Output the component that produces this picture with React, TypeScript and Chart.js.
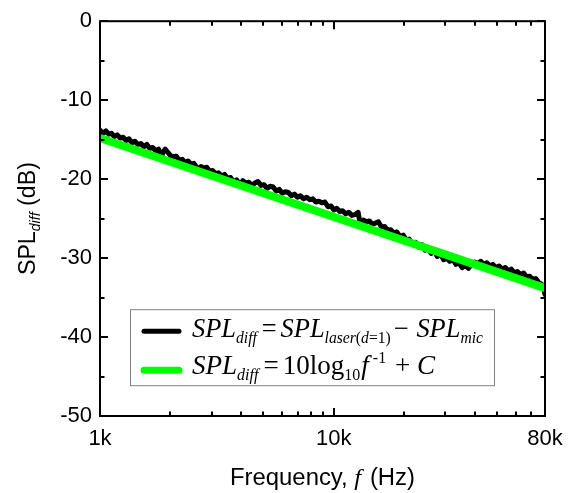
import React, { useEffect, useRef } from 'react';
import { Chart, registerables } from 'chart.js';

Chart.register(...registerables);

// Measured SPL difference (black trace)
const measuredFreqHz = [
  1000, 1030, 1060, 1090, 1120, 1150, 1185, 1220, 1255, 1290, 1330, 1370, 1410, 1450, 1495, 1540, 1585, 1630,
  1680, 1730, 1780, 1830, 1860, 1900, 1950, 2000, 2060, 2120, 2180, 2250, 2310, 2380, 2450, 2520, 2590, 2640,
  2700, 2780, 2860, 2940, 3030, 3120, 3210, 3310, 3410, 3510, 3620, 3730, 3840, 3960, 4080, 4200, 4330, 4460,
  4600, 4740, 4880, 5030, 5180, 5340, 5500, 5670, 5840, 6020, 6200, 6390, 6580, 6780, 6990, 7200, 7420, 7650,
  7880, 8120, 8370, 8630, 8890, 9160, 9440, 9730, 10000, 10300, 10600, 10900, 11250, 11600, 11950, 12300,
  12700, 12900, 13100, 13400, 13800, 14200, 14600, 15000, 15500, 16000, 16500, 17000, 17500, 18000, 18600,
  19200, 19800, 20400, 21000, 21700, 22400, 23100, 23800, 24500, 25300, 26100, 26900, 27700, 28600, 29500,
  30400, 31300, 32300, 33300, 34300, 35400, 36500, 37600, 38800, 40000, 41200, 42500, 43800, 45100, 46500,
  47900, 49400, 50900, 52500, 54100, 55700, 57400, 59200, 61000, 62900, 64800, 66800, 68800, 70900, 73000,
  75200, 77400, 79000, 80000,
];
const measuredSplDiff = [
  -13.8, -14.2, -13.9, -14.3, -14.2, -14.6, -14.4, -14.8, -14.7, -15.1, -14.9, -15.4, -15.2, -15.6, -15.5, -15.9, -15.6, -16.1,
  -16.0, -16.4, -16.2, -17.3, -16.6, -16.2, -16.6, -17.0, -17.2, -17.1, -17.6, -17.5, -17.9, -17.7, -18.1, -18.0, -18.5, -19.0,
  -18.4, -18.6, -18.5, -19.0, -18.9, -19.3, -19.2, -19.6, -19.4, -19.9, -19.8, -20.4, -20.1, -20.7, -20.2, -20.5, -20.4, -20.8,
  -20.5, -20.3, -20.8, -20.7, -21.2, -20.9, -21.0, -21.5, -21.3, -21.8, -21.6, -21.7, -22.1, -21.9, -22.3, -22.1, -22.5, -22.3,
  -22.6, -22.5, -22.9, -22.8, -23.0, -22.9, -23.5, -23.4, -23.9, -23.7, -24.1, -24.0, -24.4, -24.2, -24.6, -24.5,
  -24.2, -25.3, -25.7, -25.2, -25.4, -25.3, -25.7, -25.6, -25.4, -26.1, -26.0, -26.5, -26.4, -26.8, -26.7,
  -27.3, -27.1, -27.7, -27.6, -28.2, -28.0, -28.6, -28.3, -29.0, -28.8, -29.4, -29.1, -29.8, -29.5, -30.2,
  -30.0, -30.4, -30.2, -30.8, -30.6, -31.2, -30.9, -31.3, -30.8, -30.5, -30.7, -30.4, -30.8, -30.6, -31.0,
  -30.8, -31.2, -31.0, -31.4, -31.2, -31.6, -31.4, -31.9, -31.7, -32.1, -31.9, -32.4, -32.3, -32.7, -32.6,
  -33.1, -33.3, -33.9, -34.6,
];

// Fit line (green): SPL_diff = 10 log10 f^-1 + C
const fitFreqHz = [1000, 80000];
const fitSplDiff = [-14.8, -33.8];

// Axes
const xMin = 1000;
const xMax = 80000;
const yMin = -50;
const yMax = 0;
const xTickValues = [1000, 10000, 80000];
const xTickLabels = ['1k', '10k', '80k'];
const xMajorMarks = [1000, 10000];
const xMinorMarks = [2000, 3000, 4000, 5000, 6000, 7000, 8000, 9000, 20000, 30000, 40000, 50000, 60000, 70000];
const yMajorMarks = [0, -10, -20, -30, -40, -50];
const yMinorMarks = [-5, -15, -25, -35, -45];

const SANS = '"Liberation Sans", Arial, Helvetica, sans-serif';
const SERIF = '"Liberation Serif", "Times New Roman", Times, serif';

type Seg = { t: string; font: string; dy?: number; gapBefore?: number; gapAfter?: number };

function drawRich(ctx: CanvasRenderingContext2D, segs: Seg[], x: number, y: number, targetWidth: number, align: 'left' | 'center' = 'left') {
  ctx.save();
  ctx.textAlign = 'left';
  ctx.textBaseline = 'alphabetic';
  let total = 0;
  const widths: number[] = [];
  for (const s of segs) {
    ctx.font = s.font;
    const w = ctx.measureText(s.t).width;
    widths.push(w);
    total += (s.gapBefore || 0) + w + (s.gapAfter || 0);
  }
  const sx = targetWidth / total;
  ctx.translate(align === 'center' ? x - targetWidth / 2 : x, y);
  ctx.scale(sx, 1);
  let cx = 0;
  segs.forEach((s, i) => {
    ctx.font = s.font;
    cx += s.gapBefore || 0;
    ctx.fillText(s.t, cx, s.dy || 0);
    cx += widths[i] + (s.gapAfter || 0);
  });
  ctx.restore();
}

const framePlugin = {
  id: 'frameTicks',
  afterDatasetsDraw(chart: any) {
    const { ctx, chartArea } = chart;
    const { left, right, top, bottom } = chartArea;
    const xs = chart.scales.x;
    const ys = chart.scales.y;
    ctx.save();
    ctx.strokeStyle = '#000';
    ctx.lineWidth = 2;
    ctx.lineCap = 'butt';
    ctx.strokeRect(left, top, right - left, bottom - top);
    const majorLen = 8;
    const minorLen = 4.5;
    ctx.beginPath();
    const xMark = (v: number, len: number) => {
      const px = Math.round(xs.getPixelForValue(v));
      ctx.moveTo(px, bottom);
      ctx.lineTo(px, bottom - len);
      ctx.moveTo(px, top);
      ctx.lineTo(px, top + len);
    };
    const yMark = (v: number, len: number) => {
      const py = Math.round(ys.getPixelForValue(v));
      ctx.moveTo(left, py);
      ctx.lineTo(left + len, py);
      ctx.moveTo(right, py);
      ctx.lineTo(right - len, py);
    };
    xMajorMarks.forEach((v) => xMark(v, majorLen));
    xMinorMarks.forEach((v) => xMark(v, minorLen));
    yMajorMarks.forEach((v) => yMark(v, majorLen));
    yMinorMarks.forEach((v) => yMark(v, minorLen));
    ctx.stroke();
    ctx.restore();
  },
  afterDraw(chart: any) {
    const { ctx, chartArea } = chart;
    const { left, right, top, bottom } = chartArea;
    ctx.save();
    ctx.fillStyle = '#000';

    // Y axis title
    ctx.save();
    ctx.translate(35, (top + bottom) / 2);
    ctx.rotate(-Math.PI / 2);
    drawRich(ctx, [
      { t: 'SPL', font: `23px ${SANS}` },
      { t: 'diff', font: `italic 14px ${SANS}`, dy: 5 },
      { t: ' (dB)', font: `23px ${SANS}` },
    ], 0, 0, 113, 'center');
    ctx.restore();

    // X axis title
    drawRich(ctx, [
      { t: 'Frequency, ', font: `23px ${SANS}` },
      { t: 'f', font: `italic 24px ${SERIF}`, gapAfter: 2 },
      { t: ' (Hz)', font: `23px ${SANS}` },
    ], (left + right) / 2, 485, 185, 'center');

    // Legend box
    const bx = left + 30;
    const by = top + 288;
    const bw = 364;
    const bh = 76;
    ctx.fillStyle = '#fff';
    ctx.fillRect(bx, by, bw, bh);
    ctx.strokeStyle = '#808080';
    ctx.lineWidth = 1;
    ctx.strokeRect(bx + 0.5, by + 0.5, bw, bh);

    ctx.lineCap = 'round';
    ctx.lineWidth = 5;
    ctx.strokeStyle = '#000000';
    ctx.beginPath();
    ctx.moveTo(bx + 14, by + 22);
    ctx.lineTo(bx + 49, by + 22);
    ctx.stroke();
    ctx.strokeStyle = '#00ff00';
    ctx.lineWidth = 7;
    ctx.beginPath();
    ctx.moveTo(bx + 14, by + 61);
    ctx.lineTo(bx + 49, by + 61);
    ctx.stroke();

    ctx.fillStyle = '#000';
    const I = `italic 27px ${SERIF}`;
    const R = `27px ${SERIF}`;
    const IS = `italic 16px ${SERIF}`;
    const RS = `16px ${SERIF}`;
    drawRich(ctx, [
      { t: 'SPL', font: I },
      { t: 'diff', font: IS, dy: 6 },
      { t: '=', font: R, gapBefore: 5, gapAfter: 4 },
      { t: 'SPL', font: I },
      { t: 'laser', font: IS, dy: 6 },
      { t: '(', font: RS, dy: 6 },
      { t: 'd', font: IS, dy: 6 },
      { t: '=1)', font: RS, dy: 6 },
      { t: '\u2212', font: R, gapBefore: 3, gapAfter: 8 },
      { t: 'SPL', font: I },
      { t: 'mic', font: IS, dy: 6 },
    ], bx + 62, by + 28, 291);
    drawRich(ctx, [
      { t: 'SPL', font: I },
      { t: 'diff', font: IS, dy: 6 },
      { t: '=', font: R, gapBefore: 5, gapAfter: 4 },
      { t: '10log', font: R },
      { t: '10', font: RS, dy: 6 },
      { t: 'f', font: I, gapBefore: 1 },
      { t: ' -1', font: RS, dy: -11 },
      { t: ' + ', font: R, gapBefore: 2 },
      { t: 'C', font: I },
    ], bx + 62, by + 65, 243);
    ctx.restore();
  },
};

export default function App() {
  const canvasRef = useRef<HTMLCanvasElement | null>(null);

  useEffect(() => {
    const canvas = canvasRef.current;
    if (!canvas) return;
    const chart = new Chart(canvas, {
      type: 'line',
      data: {
        datasets: [
          {
            label: 'SPLdiff = SPLlaser(d=1) − SPLmic',
            data: measuredFreqHz.map((f, i) => ({ x: f, y: measuredSplDiff[i] })),
            borderColor: '#000000',
            borderWidth: 5,
            pointRadius: 0,
            tension: 0,
            borderJoinStyle: 'round',
            borderCapStyle: 'round',
            order: 2,
          },
          {
            label: 'SPLdiff = 10log10 f^-1 + C',
            data: fitFreqHz.map((f, i) => ({ x: f, y: fitSplDiff[i] })),
            borderColor: '#00ff00',
            borderWidth: 8,
            pointRadius: 0,
            tension: 0,
            order: 1,
          },
        ],
      },
      options: {
        responsive: false,
        animation: false,
        events: [],
        layout: { padding: { top: 19, right: 28, left: 0, bottom: 0 } },
        plugins: {
          legend: { display: false },
          tooltip: { enabled: false },
          title: { display: false },
        },
        scales: {
          x: {
            type: 'logarithmic',
            min: xMin,
            max: xMax,
            grid: { display: false, drawTicks: false },
            border: { display: false },
            afterBuildTicks: (scale: any) => {
              scale.ticks = xTickValues.map((v) => ({ value: v }));
            },
            afterFit: (scale: any) => {
              scale.height = 77;
            },
            ticks: {
              autoSkip: false,
              maxRotation: 0,
              padding: 10,
              color: '#000',
              font: { family: SANS, size: 22 },
              callback: (value: any) => {
                const idx = xTickValues.indexOf(Number(value));
                return idx >= 0 ? xTickLabels[idx] : '';
              },
            },
          },
          y: {
            type: 'linear',
            min: yMin,
            max: yMax,
            grid: { display: false, drawTicks: false },
            border: { display: false },
            afterFit: (scale: any) => {
              scale.width = 100;
            },
            ticks: {
              stepSize: 10,
              padding: 8,
              color: '#000',
              font: { family: SANS, size: 22 },
            },
          },
        },
      },
      plugins: [framePlugin],
    } as any);
    return () => chart.destroy();
  }, []);

  return (
    <div style={{ position: 'absolute', left: 0, top: 0, width: 573, height: 493, background: '#fff' }}>
      <canvas ref={canvasRef} width={573} height={493} style={{ display: 'block' }} />
    </div>
  );
}
